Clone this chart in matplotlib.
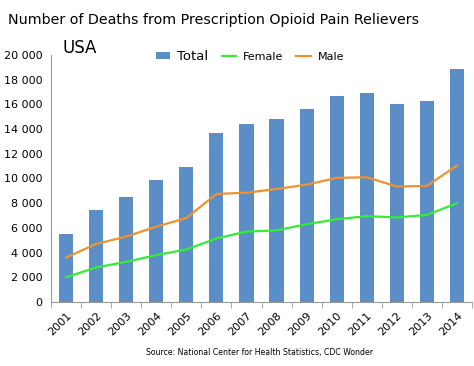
import matplotlib.pyplot as plt
import numpy as np

years = ['2001', '2002', '2003', '2004', '2005', '2006', '2007',
         '2008', '2009', '2010', '2011', '2012', '2013', '2014']
total = [5528, 7456, 8517, 9857, 10928, 13723, 14408,
         14800, 15597, 16651, 16917, 16007, 16235, 18893]
female = [2000, 2800, 3250, 3800, 4250, 5150, 5700,
          5800, 6300, 6700, 6950, 6850, 7050, 8000]
male = [3600, 4700, 5300, 6100, 6800, 8750, 8850,
        9150, 9500, 10050, 10100, 9350, 9400, 11050]

BAR = '#5b8ec6'
GREEN = '#33ee33'
ORANGE = '#f0922e'
GREY = '#999999'


def thousands(v, pos=None):
    return f'{int(v):,}'.replace(',', ' ')


def main() -> None:
    fig = plt.figure(figsize=(4.74, 3.66), dpi=100)
    ax = fig.add_axes([51 / 474, 64 / 366, 421 / 474, 247 / 366])

    x = np.arange(len(years))
    bars = ax.bar(x, total, width=0.47, color=BAR, label='Total', zorder=2)
    l_f, = ax.plot(x, female, color=GREEN, lw=1.6, label='Female', zorder=3)
    l_m, = ax.plot(x, male, color=ORANGE, lw=1.6, label='Male', zorder=3)

    ax.set_xlim(-0.5, len(years) - 0.5)
    ax.set_ylim(0, 20000)
    ax.set_yticks(range(0, 20001, 2000))
    ax.yaxis.set_major_formatter(plt.FuncFormatter(thousands))
    ax.tick_params(axis='y', length=0, pad=6, labelsize=8)

    ax.set_xticks(x)
    ax.set_xticklabels(years, rotation=45, ha='right', rotation_mode='anchor')
    ax.set_xticks(np.arange(-0.5, len(years)), minor=True)
    ax.tick_params(axis='x', which='major', length=0, pad=6, labelsize=8)
    ax.tick_params(axis='x', which='minor', length=4, color=GREY, direction='out')

    for side in ('top', 'right'):
        ax.spines[side].set_visible(False)
    for side in ('left', 'bottom'):
        ax.spines[side].set_color(GREY)
    ax.spines['left'].set_bounds(0, 20000)

    fig.text(8 / 474, 1 - 20 / 366, 'Number of Deaths from Prescription Opioid Pain Relievers',
             fontsize=10.3, va='center', ha='left')
    fig.text(63 / 474, 1 - 48 / 366, 'USA', fontsize=12, va='center', ha='left')
    fig.text(260 / 474, 1 - 353 / 366, 'Source: National Center for Health Statistics, CDC Wonder',
             fontsize=5.6, va='center', ha='center')

    leg = ax.legend([bars, l_f, l_m], ['Total', 'Female', 'Male'],
                    loc='center', bbox_to_anchor=(250 / 474, 1 - 56 / 366),
                    bbox_transform=fig.transFigure, ncol=3, frameon=False,
                    fontsize=8, handlelength=1.3, handleheight=0.5,
                    columnspacing=1.2, handletextpad=0.6)
    leg.get_texts()[0].set_fontsize(9.5)

    fig.savefig('out.png', dpi=100)
    plt.close(fig)


if __name__ == '__main__':
    main()
